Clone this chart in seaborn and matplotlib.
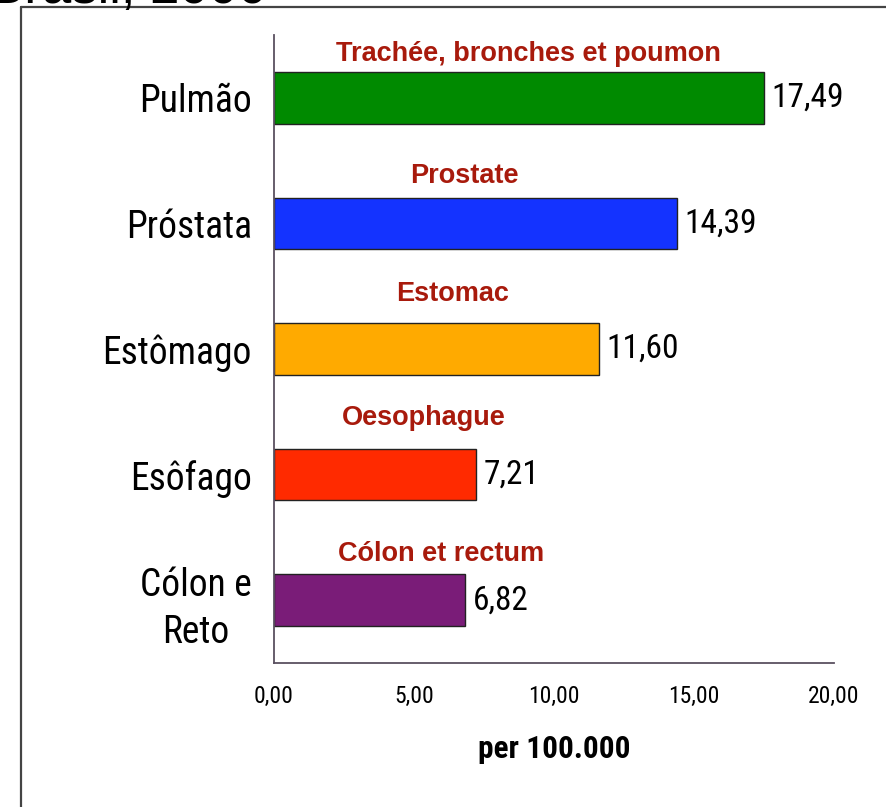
import matplotlib
matplotlib.use("Agg")
import matplotlib.pyplot as plt
from matplotlib.lines import Line2D
import seaborn as sns
import pandas as pd

# data
categories = ["Pulmão", "Próstata", "Estômago", "Esôfago", "Cólon e\nReto"]
rates = [17.49, 14.39, 11.60, 7.21, 6.82]
value_labels = ["17,49", "14,39", "11,60", "7,21", "6,82"]
french_names = ["Trachée, bronches et poumon", "Prostate", "Estomac",
                "Oesophague", "Cólon et rectum"]
tick_values = [0, 5, 10, 15, 20]
tick_labels = ["0,00", "5,00", "10,00", "15,00", "20,00"]
bar_colors = ["#008a00", "#1433ff", "#ffaa00", "#ff2a00", "#7a1c78"]

# where the red captions sit (x centre in data units, y offset from bar centre)
caption_x = [9.07, 6.79, 6.36, 5.36, 5.96]
caption_dy = [-0.35, -0.38, -0.44, -0.45, -0.37]

sns.set_style("white")
narrow = ["Roboto Condensed", "Archivo Narrow", "DejaVu Sans"]
plt.rcParams["font.family"] = narrow
plt.rcParams["text.color"] = "black"
plt.rcParams["xtick.color"] = "black"
plt.rcParams["ytick.color"] = "black"
plt.rcParams["axes.labelcolor"] = "black"

df = pd.DataFrame({"cat": categories, "rate": rates})

fig = plt.figure(figsize=(8.86, 8.07), dpi=100)
ax = fig.add_axes([274 / 886, 1 - 663 / 807, 560 / 886, 628 / 807])

sns.barplot(data=df, x="rate", y="cat", hue="cat", palette=bar_colors,
            saturation=1, legend=False, width=0.41, edgecolor="#222222",
            linewidth=1.0, orient="h", ax=ax)

ax.set_xlim(0, 20)
ax.set_ylim(4.5, -0.5)
for s in ["top", "right"]:
    ax.spines[s].set_visible(False)
axis_col = "#5a5060"
for s in ["left", "bottom"]:
    ax.spines[s].set_color(axis_col)
    ax.spines[s].set_linewidth(1.3)

# y: labels at centres, tick marks at category boundaries
ax.set_yticks(range(len(categories)))
ax.set_yticklabels(categories, fontsize=27)
ax.tick_params(axis="y", which="major", length=0, pad=16)
for lab in ax.get_yticklabels():
    lab.set_multialignment("center")
    lab.set_linespacing(1.35)
ax.set_yticks([i - 0.5 for i in range(len(categories) + 1)], minor=True)
ax.tick_params(axis="y", which="minor", length=5.5, width=1.3,
               color=axis_col, direction="out")

ax.set_xticks(tick_values)
ax.set_xticklabels(tick_labels, fontsize=17)
ax.tick_params(axis="x", length=4.5, width=1.3, color=axis_col, pad=11,
               direction="out")
ax.set_xlabel("per 100.000", fontsize=22.5, fontweight="bold", labelpad=19)
ax.set_ylabel("")

for i, (v, t) in enumerate(zip(rates, value_labels)):
    ax.text(v + 0.28, i, t, fontsize=24, va="center", ha="left")
    ax.text(caption_x[i], i + caption_dy[i], french_names[i], fontsize=19.5,
            fontweight="bold", color="#a81a0c", ha="center", va="center",
            family=["Liberation Sans", "DejaVu Sans"])

# frame of the original slide and the cropped title
fx = 21 / 886
fy = 1 - 7 / 807
fig.add_artist(Line2D([fx, fx], [-0.01, fy], transform=fig.transFigure,
                      color="#444444", lw=1.6))
fig.add_artist(Line2D([fx, 1.01], [fy, fy], transform=fig.transFigure,
                      color="#444444", lw=1.6))
fig.text(267 / 886, 1 - 3 / 807, "Brasil, 2000", fontsize=38, ha="right",
         va="baseline", family=["Liberation Sans", "DejaVu Sans"])

fig.savefig("out.png", dpi=100, facecolor="white")
